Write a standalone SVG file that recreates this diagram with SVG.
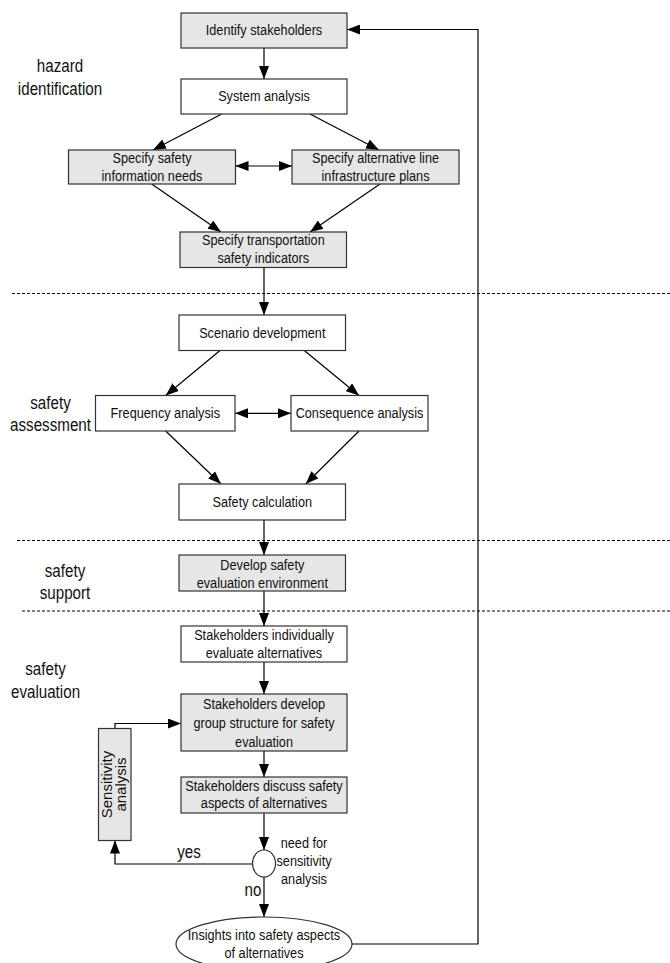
<svg xmlns="http://www.w3.org/2000/svg" width="670" height="963" viewBox="0 0 670 963">
<style>
.box{stroke:#333;stroke-width:1.2}
.g{fill:#e6e6e6}
.w{fill:#fff}
.t{font-family:"Liberation Sans",Arial,sans-serif;font-size:15.5px;fill:#111;text-anchor:middle}
.lab{font-family:"Liberation Sans",Arial,sans-serif;font-size:18.5px;fill:#111;text-anchor:middle}
.rt{font-family:"Liberation Sans",Arial,sans-serif;font-size:15px;fill:#111;text-anchor:middle}
.c{stroke:#000;stroke-width:1.2;fill:none;marker-end:url(#ah)}
.d{marker-start:url(#ah)}
.dash{stroke:#000;stroke-width:1;stroke-dasharray:3,2;fill:none}
</style>
<defs>
<marker id="ah" viewBox="0 0 13 10" refX="13" refY="5" markerWidth="13" markerHeight="10" markerUnits="userSpaceOnUse" orient="auto-start-reverse">
<path d="M0,0 L13,5 L0,10 z" fill="#000"/>
</marker>
</defs>
<rect width="670" height="963" fill="#fff"/>
<g id="separators">
<line class="dash" x1="12" y1="293.5" x2="670" y2="293.5"/>
<line class="dash" x1="17" y1="540.5" x2="670" y2="540.5"/>
<line class="dash" x1="22" y1="611" x2="670" y2="611"/>
</g>
<g id="phase-labels">
<text class="lab" transform="translate(60,72) scale(0.82,1)">hazard</text>
<text class="lab" transform="translate(60,95) scale(0.82,1)">identification</text>
<text class="lab" transform="translate(50.5,409) scale(0.82,1)">safety</text>
<text class="lab" transform="translate(50.5,431) scale(0.82,1)">assessment</text>
<text class="lab" transform="translate(65,577) scale(0.82,1)">safety</text>
<text class="lab" transform="translate(65,599) scale(0.82,1)">support</text>
<text class="lab" transform="translate(45.5,675) scale(0.82,1)">safety</text>
<text class="lab" transform="translate(45.5,698) scale(0.82,1)">evaluation</text>
</g>
<g id="connectors">
<line class="c" x1="264" y1="48" x2="264" y2="79"/>
<line class="c" x1="221.7" y1="114" x2="153" y2="150"/>
<line class="c" x1="310" y1="114" x2="379" y2="150"/>
<line class="c d" x1="235.5" y1="166" x2="292" y2="166"/>
<line class="c" x1="151.7" y1="184" x2="221" y2="232"/>
<line class="c" x1="380" y1="184" x2="310" y2="232"/>
<line class="c" x1="264" y1="267.5" x2="264" y2="315"/>
<line class="c" x1="220" y1="350.5" x2="165.7" y2="395.5"/>
<line class="c" x1="304.3" y1="350.5" x2="359" y2="395.5"/>
<line class="c d" x1="235" y1="413.3" x2="291" y2="413.3"/>
<line class="c" x1="165.7" y1="431" x2="221" y2="484"/>
<line class="c" x1="359" y1="431" x2="305.7" y2="484"/>
<line class="c" x1="264" y1="520" x2="264" y2="555"/>
<line class="c" x1="264" y1="591" x2="264" y2="626"/>
<line class="c" x1="264" y1="662" x2="264" y2="694"/>
<line class="c" x1="264" y1="751" x2="264" y2="777"/>
<line class="c" x1="264" y1="813" x2="264" y2="850"/>
<line class="c" x1="264" y1="877" x2="264" y2="917"/>
<polyline class="c" points="252.5,864 115,864 115,840.5"/>
<polyline class="c" points="115,728.5 115,723.5 181,723.5"/>
<polyline class="c" points="352,944 478,944 478,29.5 347,29.5"/>
<text class="lab" transform="translate(189,858) scale(0.82,1)">yes</text>
<text class="lab" transform="translate(253,896) scale(0.82,1)">no</text>
</g>
<g id="n-identify"><rect class="box g" x="181" y="13" width="166" height="35"/><text class="t" transform="translate(264,35) scale(0.82,1)">Identify stakeholders</text></g>
<g id="n-system"><rect class="box w" x="181" y="79" width="166" height="35"/><text class="t" transform="translate(264,101) scale(0.82,1)">System analysis</text></g>
<g id="n-info"><rect class="box g" x="68.5" y="150" width="167" height="34"/><text class="t" transform="translate(152,162.5) scale(0.82,1)">Specify safety</text><text class="t" transform="translate(152,180.5) scale(0.82,1)">information needs</text></g>
<g id="n-alt"><rect class="box g" x="292" y="150" width="167" height="34"/><text class="t" transform="translate(375.5,162.5) scale(0.82,1)">Specify alternative line</text><text class="t" transform="translate(375.5,180.5) scale(0.82,1)">infrastructure plans</text></g>
<g id="n-indicators"><rect class="box g" x="180" y="232" width="166.5" height="35.5"/><text class="t" transform="translate(263.3,245) scale(0.82,1)">Specify transportation</text><text class="t" transform="translate(263.3,262.5) scale(0.82,1)">safety indicators</text></g>
<g id="n-scenario"><rect class="box w" x="179" y="315" width="166.5" height="35.5"/><text class="t" transform="translate(262.3,337.5) scale(0.82,1)">Scenario development</text></g>
<g id="n-frequency"><rect class="box w" x="95.5" y="395.5" width="139.5" height="35.5"/><text class="t" transform="translate(165.3,418) scale(0.82,1)">Frequency analysis</text></g>
<g id="n-consequence"><rect class="box w" x="291" y="395.5" width="137" height="35.5"/><text class="t" transform="translate(359.5,418) scale(0.82,1)">Consequence analysis</text></g>
<g id="n-calculation"><rect class="box w" x="179" y="484" width="166.5" height="36"/><text class="t" transform="translate(262.3,507) scale(0.82,1)">Safety calculation</text></g>
<g id="n-environment"><rect class="box g" x="179" y="555" width="166.5" height="36"/><text class="t" transform="translate(262.3,570) scale(0.82,1)">Develop safety</text><text class="t" transform="translate(262.3,587.5) scale(0.82,1)">evaluation environment</text></g>
<g id="n-individual"><rect class="box w" x="181" y="626" width="166" height="36"/><text class="t" transform="translate(264,639.5) scale(0.82,1)">Stakeholders individually</text><text class="t" transform="translate(264,658) scale(0.82,1)">evaluate alternatives</text></g>
<g id="n-group"><rect class="box g" x="181" y="694" width="166" height="57"/><text class="t" transform="translate(264,709) scale(0.82,1)">Stakeholders develop</text><text class="t" transform="translate(264,728) scale(0.82,1)">group structure for safety</text><text class="t" transform="translate(264,746.5) scale(0.82,1)">evaluation</text></g>
<g id="n-discuss"><rect class="box g" x="181" y="777" width="166" height="36"/><text class="t" transform="translate(264,790.5) scale(0.82,1)">Stakeholders discuss safety</text><text class="t" transform="translate(264,808) scale(0.82,1)">aspects of alternatives</text></g>
<g id="n-sensitivity"><rect class="box g" x="98.5" y="728.5" width="32.5" height="112"/><text class="rt" transform="translate(111.5,784.5) rotate(-90)">Sensitivity</text><text class="rt" transform="translate(126,784.5) rotate(-90)">analysis</text></g>
<g id="n-decision"><ellipse class="box w" cx="264" cy="863.5" rx="11.5" ry="13.5"/><text class="t" transform="translate(304,847.5) scale(0.82,1)">need for</text><text class="t" transform="translate(304,866) scale(0.82,1)">sensitivity</text><text class="t" transform="translate(304,884) scale(0.82,1)">analysis</text></g>
<g id="n-insights"><ellipse class="box w" cx="264" cy="944" rx="88" ry="27"/><text class="t" transform="translate(264,940) scale(0.82,1)">Insights into safety aspects</text><text class="t" transform="translate(264,958) scale(0.82,1)">of alternatives</text></g>
</svg>
